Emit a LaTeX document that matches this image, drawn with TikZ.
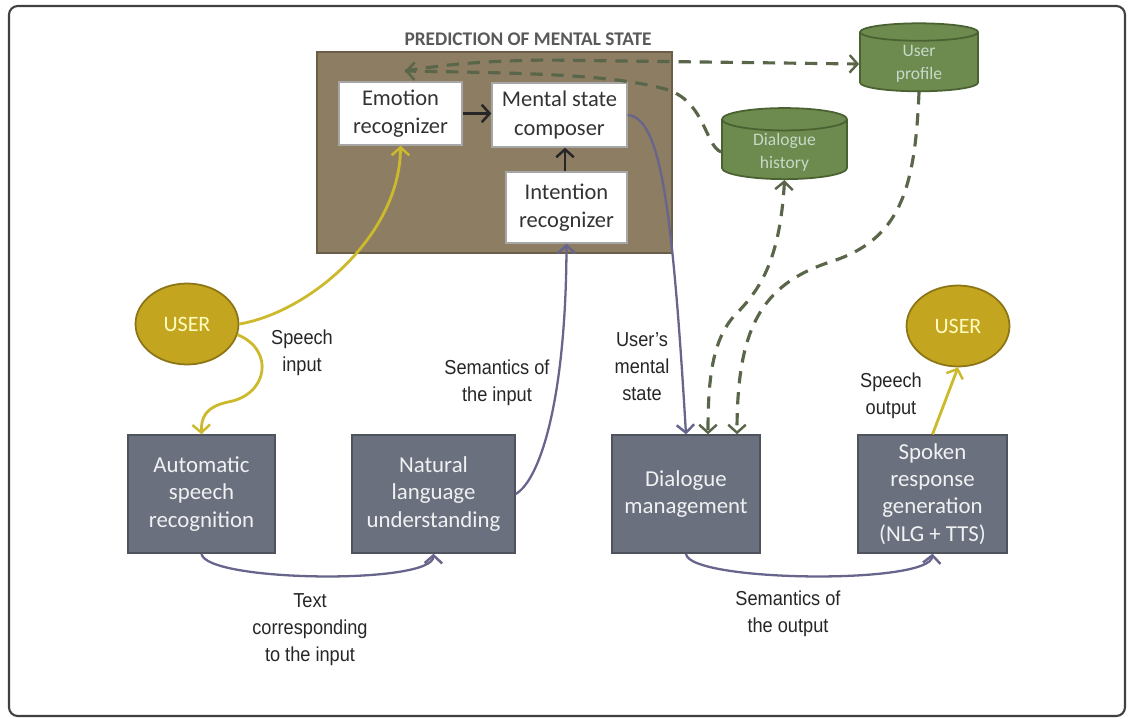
\documentclass[tikz,border=0pt]{standalone}
\usepackage{fontspec}
\setmainfont{Carlito}
\newfontfamily\labelfont{Liberation Sans}[FakeStretch=0.9]
\usetikzlibrary{shapes.geometric,arrows.meta,calc}

\definecolor{predbrown}{HTML}{8C7D63}
\definecolor{predborder}{HTML}{6A5E48}
\definecolor{modgrey}{HTML}{6B707E}
\definecolor{modborder}{HTML}{4F535E}
\definecolor{usergold}{HTML}{C4A520}
\definecolor{userborder}{HTML}{8C7516}
\definecolor{speechyellow}{HTML}{CDB92C}
\definecolor{flowpurple}{HTML}{67658C}
\definecolor{dbgreen}{HTML}{6D8A4F}
\definecolor{dbborder}{HTML}{4A6232}
\definecolor{dashgreen}{HTML}{5A6649}

\tikzset{
  barb/.tip={Straight Barb[length=4.5pt,width=10pt,line width=1.4pt]},
  predbox/.style={rectangle, draw=predborder, line width=1pt, fill=predbrown},
  predtitle/.style={text=black!65, font=\fontsize{11}{13}\selectfont\bfseries},
  recog/.style={rectangle, draw=gray!70, line width=0.8pt, fill=white, align=center,
    text=black!80, font=\fontsize{12.8}{16}\selectfont},
  module/.style={rectangle, draw=modborder, line width=0.8pt, fill=modgrey,
    text=white!90!modgrey, align=center, minimum height=2.36cm,
    font=\fontsize{13}{15.5}\selectfont},
  userell/.style={ellipse, draw=userborder, line width=1pt, fill=usergold,
    text=yellow!25!white, minimum width=2.06cm, minimum height=1.62cm, inner sep=0pt,
    font=\fontsize{12.5}{15}\selectfont},
  store/.style={cylinder, shape border rotate=90, aspect=0.3, draw=dbborder,
    line width=1pt, fill=dbgreen, text=green!8!white!85!black, align=center,
    inner ysep=1pt, font=\fontsize{10}{13}\selectfont},
  lbl/.style={align=center, text=black!85, font=\labelfont\fontsize{11.5}{15.3}\selectfont},
  inner/.style={draw=black!85, line width=1.6pt, -barb},
  speech/.style={draw=speechyellow, line width=1.6pt, -barb},
  flow/.style={draw=flowpurple, line width=1.3pt, -barb},
  datalink/.style={draw=dashgreen, line width=1.8pt, dash pattern=on 7pt off 5pt}
}

\begin{document}
\begin{tikzpicture}[x=0.02cm, y=-0.02cm]
\useasboundingbox (0,0) rectangle (1128,719);
\draw[black!75, line width=1.2pt, rounded corners=5pt] (9,6) rectangle (1125,716);

% prediction of the mental state
\node[predbox, minimum width=7.1cm, minimum height=4.02cm] (pred) at (494.5,152.5) {};
\node[predtitle] (predname) at (528,39) {PREDICTION OF MENTAL STATE};
\node[recog, minimum width=2.46cm, minimum height=1.26cm] (emo) at (400.5,113.5) {Emotion\\recognizer};
\node[recog, minimum width=2.7cm, minimum height=1.28cm] (msc) at (559.5,115) {Mental state\\composer};
\node[recog, minimum width=2.42cm, minimum height=1.42cm] (intn) at (566.5,207.5) {Intention\\recognizer};

% data stores
\node[store, minimum width=2.36cm, minimum height=1.36cm] (uprof) at (919,64) {User\\profile};
\node[store, minimum width=2.5cm, minimum height=1.4cm] (dhist) at (784.5,152) {Dialogue\\history};

% users
\node[userell] (userL) at (187,324) {USER};
\node[userell] (userR) at (958,326) {USER};

% pipeline
\node[module, minimum width=2.94cm] (asr) at (201.5,494) {Automatic\\speech\\recognition};
\node[module, minimum width=3.26cm] (nlu) at (433.5,494) {Natural\\language\\understanding};
\node[module, minimum width=2.96cm] (dm) at (686,494) {Dialogue\\management};
\node[module, minimum width=2.98cm] (srg) at (932.5,494) {Spoken\\response\\generation\\(NLG + TTS)};

% labels
\node[lbl] (spin) at (302,353) {Speech\\input};
\node[lbl] (semin) at (497,383) {Semantics of\\the input};
\node[lbl] (mstate) at (642,367) {User’s\\mental\\state};
\node[lbl] (spout) at (891,396) {Speech\\output};
\node[lbl] (txtin) at (310,630) {Text\\corresponding\\to the input};
\node[lbl] (semout) at (788,614) {Semantics of\\the output};

% inside the box
\draw[inner] (emo.east) -- (emo.east -| msc.west);
\draw[inner] (intn.north -| 565,0) -- (msc.south -| 565,0);

% speech
\draw[speech] (userL.east) .. controls (310,312) and (400,235) .. (emo.south);
\draw[speech] (userL.-12) .. controls (275,350) and (268,395) .. (228,402)
  .. controls (205,407) and (201,418) .. (asr.north);
\draw[speech] (srg.north) -- (userR.south);

% semantics
\draw[flow] (nlu.east) .. controls (540,480) and (566,400) .. (intn.south);
\draw[flow] (msc.east) .. controls (660,118) and (672,200) .. (dm.north);
\draw[flow] (asr.south) .. controls (205,582) and (433,585) .. (nlu.south);
\draw[flow] (dm.south) .. controls (688,582) and (930,585) .. (srg.south);

% stores
\coordinate (predin) at (405,71);
\draw[datalink, -barb] (predin) .. controls (460,62) and (500,61) .. (545,60) -- (uprof.180);
\draw[datalink, -barb] (dhist.180) .. controls (705,146) and (705,100) .. (665,89)
  .. controls (610,74) and (520,73) .. (predin);
\draw[datalink, barb-barb] (dhist.270) .. controls (780,260) and (760,290) .. (735,315)
  .. controls (712,340) and (708,380) .. ($(dm.north)+(22,0)$);
\draw[datalink, -barb] (uprof.270) .. controls (915,190) and (900,240) .. (830,262)
  .. controls (760,285) and (737,330) .. ($(dm.north)+(51,0)$);
\end{tikzpicture}
\end{document}
